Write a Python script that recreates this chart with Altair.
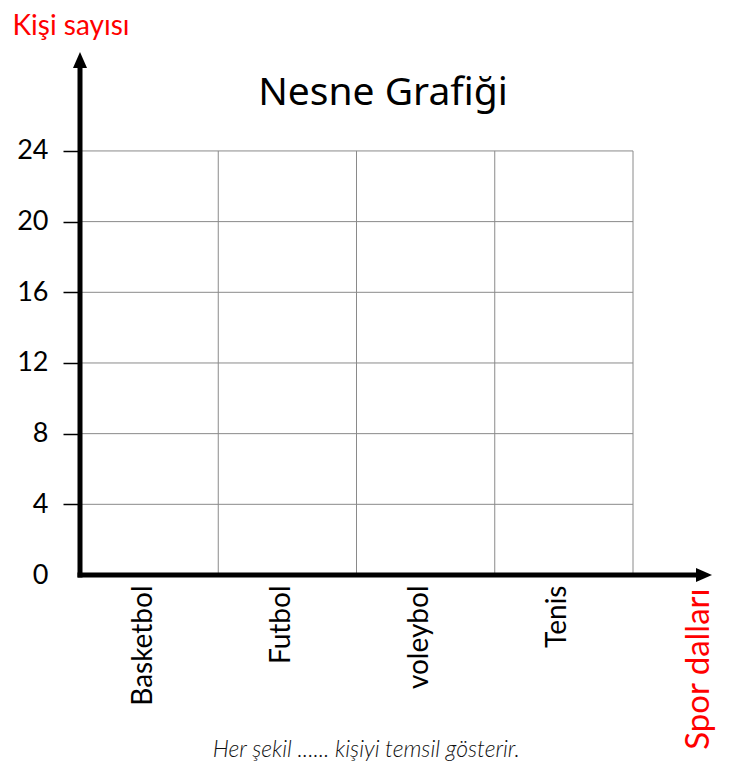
import altair as alt
import pandas as pd

# ---- data ----
categories = ["Basketbol", "Futbol", "voleybol", "Tenis"]
y_ticks = [0, 4, 8, 12, 16, 20, 24]
title_text = "Nesne Grafiği"
y_title = "Kişi sayısı"
x_title = "Spor dalları"
footer_text = "Her şekil ...... kişiyi temsil gösterir."

n = len(categories)
y_max = y_ticks[-1]
X_END = 4.5714   # x axis arrow tip (data units)
Y_END = 29.60    # y axis arrow tip (data units)

xscale = alt.Scale(domain=[0, X_END], nice=False, zero=False)
yscale = alt.Scale(domain=[0, Y_END], nice=False, zero=False)

label_font = "Lato"

label_expr = "[" + ",".join("'%s'" % c for c in categories) + "][floor(datum.value)]"

xaxis = alt.Axis(
    values=[i + 0.5 for i in range(n)],
    labelExpr=label_expr,
    labelAngle=270, labelAlign="right", labelBaseline="middle",
    labelFont=label_font, labelFontSize=28, labelColor="black", labelPadding=10,
    labelOffset=-6,
    ticks=False, domain=False, grid=False,
    title=x_title, titleFont=label_font, titleFontSize=33, titleFontWeight="normal",
    titleColor="red", titleAngle=270, titleAlign="right", titleBaseline="middle",
    titleX=618, titleY=13,
)
yaxis = alt.Axis(
    values=y_ticks,
    labelFont=label_font, labelFontSize=27, labelColor="black", labelPadding=15,
    labelBaseline="middle",
    ticks=True, tickSize=17, tickColor="black", tickWidth=1.5,
    tickOpacity={"condition": {"test": "datum.value === 0", "value": 0}, "value": 1},
    domain=False, grid=False,
    title=y_title, titleFont=label_font, titleFontSize=28, titleFontWeight="normal",
    titleColor="red", titleAngle=0, titleAlign="left", titleBaseline="middle",
    titleX=-68, titleY=-26,
)

hgrid_df = pd.DataFrame({"y": y_ticks[1:]})
vgrid_df = pd.DataFrame({"x": list(range(1, n + 1))})

grid_color = "#8a8a8a"

hgrid = alt.Chart(hgrid_df).mark_rule(color=grid_color, strokeWidth=1).encode(
    x=alt.X(datum=0, scale=xscale, axis=xaxis),
    x2=alt.X2(datum=n),
    y=alt.Y("y:Q", scale=yscale, axis=yaxis),
)

vgrid = alt.Chart(vgrid_df).mark_rule(color=grid_color, strokeWidth=1).encode(
    x=alt.X("x:Q", scale=xscale, axis=xaxis),
    y=alt.Y(datum=0, scale=yscale, axis=yaxis),
    y2=alt.Y2(datum=y_max),
)

yline = alt.Chart(pd.DataFrame({"a": [0]})).mark_rule(
    color="black", strokeWidth=5, strokeCap="square"
).encode(
    x=alt.X(datum=0, scale=xscale, axis=xaxis),
    y=alt.Y(datum=0, scale=yscale, axis=yaxis),
    y2=alt.Y2(datum=Y_END - 0.8),
)

xline = alt.Chart(pd.DataFrame({"a": [0]})).mark_rule(
    color="black", strokeWidth=5, strokeCap="square"
).encode(
    x=alt.X(datum=0, scale=xscale, axis=xaxis),
    x2=alt.X2(datum=X_END - 0.1),
    y=alt.Y(datum=0, scale=yscale, axis=yaxis),
)

yarrow = alt.Chart(pd.DataFrame({"a": [0]})).mark_point(
    shape="M0,0L0.7,1.6L-0.7,1.6Z", size=400, filled=True, color="black", opacity=1
).encode(
    x=alt.X(datum=0, scale=xscale, axis=xaxis),
    y=alt.Y(datum=Y_END, scale=yscale, axis=yaxis),
)

xarrow = alt.Chart(pd.DataFrame({"a": [0]})).mark_point(
    shape="M0,0L-1.6,-0.7L-1.6,0.7Z", size=400, filled=True, color="black", opacity=1
).encode(
    x=alt.X(datum=X_END, scale=xscale, axis=xaxis),
    y=alt.Y(datum=0, scale=yscale, axis=yaxis),
)

footer = alt.Chart(pd.DataFrame({"t": [footer_text]})).mark_text(
    font=label_font, fontSize=23, fontStyle="italic", fontWeight=300,
    color="#111111", align="center", baseline="middle",
).encode(
    x=alt.X(datum=2.07, scale=xscale, axis=xaxis),
    y=alt.Y(datum=-9.9, scale=yscale, axis=yaxis),
    text="t:N",
)

chart = alt.layer(
    hgrid, vgrid, xline, yline, xarrow, yarrow, footer
).properties(
    width=632,
    height=523,
    title=alt.Title(
        title_text, font="Noto Sans", fontSize=39, fontWeight="normal",
        color="black", anchor="middle", dx=-13, dy=105,
    ),
    autosize=alt.AutoSizeParams(type="none"),
    padding={"left": 72, "top": 44, "right": 20, "bottom": 192},
).configure_view(stroke=None)

chart.save("out.html", embed_options={"renderer": "svg", "actions": False})
